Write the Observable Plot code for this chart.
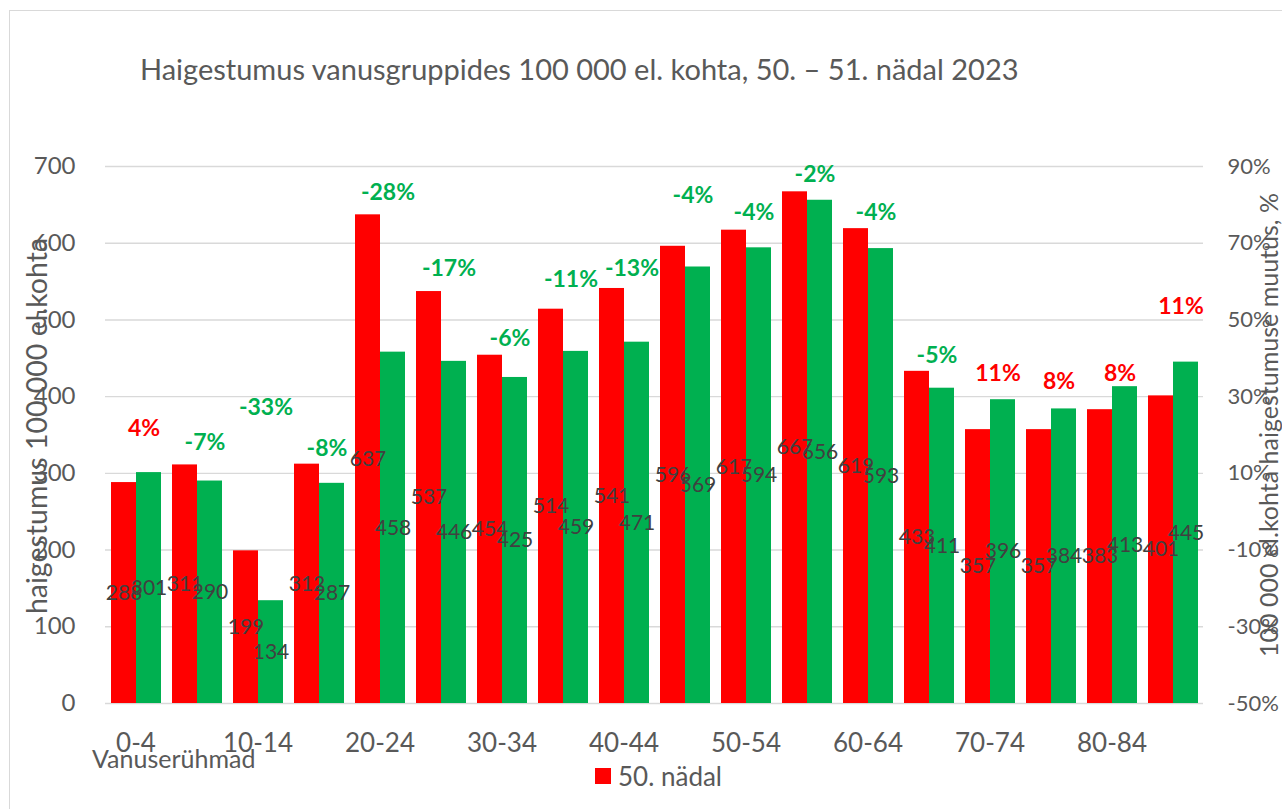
<!DOCTYPE html>
<html><head><meta charset="utf-8">
<script src="https://cdn.jsdelivr.net/npm/d3@7"></script>
<script src="https://cdn.jsdelivr.net/npm/@observablehq/plot@0.6"></script>
<style>
body{margin:0;background:#fff;overflow:hidden}
#wrap{position:relative;width:1282px;height:809px;overflow:hidden;font-family:Lato,"Open Sans",sans-serif;color:#595959}
#border{position:absolute;left:9px;top:10px;width:1400px;height:1000px;border:1px solid #d9d9d9;box-sizing:border-box}
#chart{position:absolute;left:0;top:0}
.abs{position:absolute;white-space:nowrap;line-height:1}
#title{left:140px;top:68px;transform:translateY(-50%);font-size:29px}
#ytitle{left:36px;top:426px;transform:translate(-50%,-50%) rotate(-90deg);font-size:28.5px}
#y2title{left:1268px;top:425px;transform:translate(-50%,-50%) rotate(-90deg);font-size:25px}
#xtitle{left:92px;top:758px;transform:translateY(-50%);font-size:25px}
#legend{left:595px;top:776px;transform:translateY(-50%);font-size:26px;display:flex;align-items:center}
#legend span.sw{display:inline-block;width:16px;height:16px;background:#ff0000;margin-right:7px}
</style></head>
<body>
<div id="wrap">
  <div id="border"></div>
  <div id="chart"></div>
  <div class="abs" id="title">Haigestumus vanusgruppides 100 000 el. kohta, 50. – 51. nädal 2023</div>
  <div class="abs" id="ytitle">haigestumus 100 000 el.kohta</div>
  <div class="abs" id="y2title">100 000 el.kohta haigestumuse muutus, %</div>
  <div class="abs" id="xtitle">Vanuserühmad</div>
  <div class="abs" id="legend"><span class="sw"></span>50. nädal</div>
</div>
<script>
const groups = ["0-4","5-9","10-14","15-19","20-24","25-29","30-34","35-39","40-44","45-49","50-54","55-59","60-64","65-69","70-74","75-79","80-84","85+"];
const weeks = ["50. nädal","51. nädal"];
const week50 = [288,311,199,312,637,537,454,514,541,596,617,667,619,433,357,357,383,401];
const week51 = [301,290,134,287,458,446,425,459,471,569,594,656,593,411,396,384,413,445];
const changePct = [4,-7,-33,-8,-28,-17,-6,-11,-13,-4,-4,-2,-4,-5,11,8,8,11];
// height (left-axis units) at which each change label sits in the picture
const changeLabelAt = [358,340,386,332,666,567,476,552,567,662,640,690,640,453,430,419,430,517];
const xTickLabels = ["0-4","10-14","20-24","30-34","40-44","50-54","60-64","70-74","80-84"];
const yTicks = [0,100,200,300,400,500,600,700];
const rightTickLabels = ["-50%","-30%","-10%","10%","30%","50%","70%","90%"];

const rows = groups.flatMap((g,i)=>[
  {group:g, week:weeks[0], value:week50[i]},
  {group:g, week:weeks[1], value:week51[i]}
]);
const pctRows = groups.map((g,i)=>({group:g, pct:changePct[i], at:changeLabelAt[i]}));

const chart = Plot.plot({
  width:1282, height:809,
  marginTop:166, marginBottom:106, marginLeft:102, marginRight:76,
  style:{fontFamily:"Lato, 'Open Sans', sans-serif", fontSize:"22px", color:"#595959", background:"transparent", overflow:"visible"},
  fx:{domain:groups, padding:0, label:null, axis:null},
  x:{domain:weeks, paddingInner:0, paddingOuter:0.204, axis:null},
  y:{domain:[0,700], label:null, axis:null},
  color:{domain:weeks, range:["#ff0000","#00b050"]},
  marks:[
    Plot.gridY({ticks:yTicks, stroke:"#d9d9d9", strokeOpacity:1, strokeWidth:1.4}),
    Plot.barY(rows,{fx:"group", x:"week", y:"value", fill:"week"}),
    Plot.text(rows,{fx:"group", x:"week", y:d=>d.value/2, text:d=>String(d.value), fill:"#404040", fontSize:21}),
    Plot.text(pctRows,{fx:"group", y:"at", text:d=>d.pct+"%", fill:d=>d.pct>0?"#ff0000":"#00b050", fontWeight:"bold", fontSize:23, dx:8}),
    Plot.axisY({anchor:"left", ticks:yTicks, tickSize:0, tickPadding:30, label:null, fontSize:24}),
    Plot.axisY({anchor:"right", ticks:yTicks, tickFormat:(d,i)=>rightTickLabels[yTicks.indexOf(d)], tickSize:0, tickPadding:24, label:null, fontSize:22}),
    Plot.axisFx({anchor:"bottom", tickFormat:d=>xTickLabels.includes(d)?d:"", tickSize:0, tickPadding:30, label:null, fontSize:26})
  ]
});
document.getElementById("chart").appendChild(chart);
</script>
</body></html>
